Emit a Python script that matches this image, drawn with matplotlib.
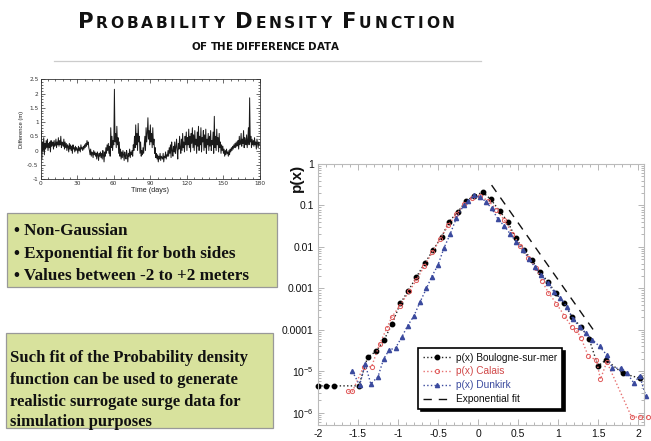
import numpy as np
import matplotlib
matplotlib.use('Agg')
import matplotlib.pyplot as plt
from matplotlib.patches import Rectangle
from matplotlib.lines import Line2D
from matplotlib.ticker import MultipleLocator, LogLocator, NullFormatter

plt.rcParams['mathtext.fontset'] = 'custom'
plt.rcParams['mathtext.rm'] = 'Liberation Sans'
plt.rcParams['mathtext.it'] = 'Liberation Sans:italic'

# ---------------- data ----------------
boulogne_x = [-2.005, -1.90, -1.80, -1.49, -1.38, -1.27, -1.175, -1.075, -0.97, -0.87,
              -0.77, -0.66, -0.56, -0.455, -0.36, -0.25, -0.15, -0.05, 0.06, 0.16,
              0.27, 0.37, 0.47, 0.575, 0.67, 0.775, 0.88, 0.975, 1.075, 1.18,
              1.29, 1.39, 1.50, 1.60, 1.81, 2.02]
boulogne_y = [4.5e-6, 4.5e-6, 4.5e-6, 4.5e-6, 2.2e-5, 3.1e-5, 5.7e-5, 1.4e-4, 4.4e-4, 8.9e-4,
              1.9e-3, 4.2e-3, 8.5e-3, 0.0177, 0.041, 0.071, 0.128, 0.17, 0.21, 0.14,
              0.074, 0.041, 0.0165, 0.0085, 0.0049, 0.0025, 0.0014, 7.6e-4, 4.4e-4, 2.0e-4,
              1.17e-4, 6.0e-5, 1.35e-5, 1.9e-5, 9.0e-6, 6.9e-6]

calais_x = [-1.62, -1.57, -1.43, -1.33, -1.23, -1.14, -1.08, -0.98, -0.86, -0.77,
            -0.67, -0.57, -0.47, -0.37, -0.27, -0.17, -0.07, 0.03, 0.13, 0.23,
            0.33, 0.43, 0.53, 0.63, 0.72, 0.80, 0.88, 0.98, 1.08, 1.17,
            1.23, 1.29, 1.38, 1.48, 1.53, 1.61, 1.92, 2.02, 2.12]
calais_y = [3.3e-6, 3.3e-6, 1.3e-5, 1.3e-5, 4.6e-5, 1.1e-4, 2.0e-4, 3.8e-4, 8.5e-4, 1.6e-3,
            3.5e-3, 7.5e-3, 0.016, 0.034, 0.062, 0.11, 0.15, 0.165, 0.13, 0.08,
            0.044, 0.021, 0.0105, 0.0055, 0.0032, 1.5e-3, 8.0e-4, 4.3e-4, 2.2e-4, 1.2e-4,
            1.0e-4, 6.3e-5, 2.3e-5, 1.9e-5, 6.5e-6, 1.7e-5, 8e-7, 8e-7, 8e-7]

dunkirk_x = [-1.57, -1.48, -1.41, -1.34, -1.25, -1.18, -1.11, -1.03, -0.95, -0.88,
             -0.80, -0.725, -0.645, -0.58, -0.50, -0.425, -0.35, -0.27, -0.18, -0.12,
             -0.05, 0.025, 0.10, 0.17, 0.25, 0.33, 0.40, 0.48, 0.56, 0.64,
             0.71, 0.79, 0.87, 0.95, 1.03, 1.11, 1.19, 1.27, 1.35, 1.43,
             1.52, 1.61, 1.68, 1.79, 1.86, 1.95, 2.02, 2.10]
dunkirk_y = [1.0e-5, 4.7e-6, 1.5e-5, 5.0e-6, 7.5e-6, 2.0e-5, 3.3e-5, 3.7e-5, 6.9e-5, 1.26e-4,
             2.2e-4, 4.7e-4, 1.0e-3, 1.9e-3, 3.7e-3, 9.5e-3, 0.02, 0.05, 0.1, 0.13,
             0.175, 0.16, 0.123, 0.085, 0.047, 0.032, 0.021, 0.013, 0.0085, 0.0052,
             0.0033, 0.0021, 0.00135, 8.3e-4, 6.0e-4, 3.6e-4, 1.8e-4, 1.2e-4, 8.3e-5, 5.8e-5,
             4.0e-5, 2.5e-5, 1.2e-5, 1.2e-5, 9.3e-6, 5.2e-6, 7.9e-6, 2.5e-6]

fit_x = [0.17, 1.48]
fit_y = [0.31, 7.9e-5]

x_ticks = [-2, -1.5, -1, -0.5, 0, 0.5, 1, 1.5, 2]
x_tick_labels = ['-2', '-1.5', '-1', '-0.5', '0', '0.5', '1', '1.5', '2']
y_ticks = [1, 1e-1, 1e-2, 1e-3, 1e-4, 1e-5, 1e-6]
y_tick_labels = ['1', '0.1', '0.01', '0.001', '0.0001', r'$10^{-5}$', r'$10^{-6}$']

legend_labels = ['p(x) Boulogne-sur-mer', 'p(x) Calais', 'p(x) Dunkirk', 'Exponential fit']

# time series of the difference (m), every half day, days 0..180
diff_series = [
    -0.1, 0.7, -0.3, 0.3, 0.0, 0.45, -0.15, 0.25, 0.05, 0.35,
    0.1, 0.4, 0.0, 0.25, 0.1, 0.3, -0.05, 0.35, 0.15, 0.2,
    0.3, 0.05, 0.35, 0.15, 0.2, 0.4, 0.1, 0.3, 0.2, 0.45,
    0.15, 0.35, 0.2, 0.5, 0.1, 0.3, 0.25, 0.15, 0.4, 0.05,
    0.3, 0.1, 0.25, 0.0, 0.2, 0.15, -0.05, 0.25, 0.05, 0.2,
    0.0, 0.15, -0.1, 0.2, 0.05, 0.1, -0.05, 0.15, 0.0, 0.1,
    0.05, -0.1, 0.15, 0.0, 0.1, -0.05, 0.2, 0.05, 0.1, 0.0,
    0.15, 0.05, 0.2, 0.1, 0.25, 0.15, 0.35, 0.2, 0.3, 0.1,
    0.0, -0.15, 0.05, -0.2, -0.05, -0.1, -0.25, 0.0, -0.15, -0.05,
    -0.2, -0.1, -0.3, -0.05, -0.15, -0.35, -0.1, -0.2, -0.05, -0.25,
    -0.1, -0.3, 0.0, -0.15, -0.4, -0.05, -0.2, 0.1, -0.1, 0.2,
    0.0, 0.25, -0.1, 0.15, -0.2, 0.8, 0.1, 0.5, 0.0, 0.35,
    0.2, 2.15, 0.3, 0.6, 0.1, 0.85, 0.2, 0.45, -0.1, 0.3,
    -0.2, 0.05, -0.3, -0.05, -0.25, 0.0, -0.15, -0.35, -0.05, -0.2,
    -0.3, 0.0, -0.15, -0.4, -0.1, -0.2, 0.05, -0.25, -0.05, -0.15,
    0.0, -0.2, 0.2, 0.0, 0.5, 0.1, 0.9, 0.2, 0.6, 0.0,
    0.95, 0.3, 0.5, -0.1, 0.3, -0.2, 0.0, -0.15, 0.1, -0.1,
    0.2, 0.5, 0.0, 0.8, 0.3, 0.6, 1.15, 0.4, 0.7, 0.2,
    0.9, 0.3, 0.6, 0.1, 0.8, 0.2, 0.4, -0.1, 0.1, -0.25,
    -0.1, -0.3, -0.15, -0.4, -0.2, -0.3, -0.1, -0.35, -0.2, -0.25,
    -0.3, -0.1, -0.4, -0.2, -0.25, -0.05, -0.3, -0.15, -0.2, 0.0,
    -0.2, 0.1, -0.1, 0.2, -0.25, 0.3, 0.0, -0.2, 0.15, -0.05,
    0.3, -0.1, 0.1, 0.4, 0.0, -0.3, 0.25, 0.05, 0.5, 0.1,
    -0.1, 0.4, 0.0, 0.6, 0.1, 0.3, -0.05, 0.5, 0.2, 0.65,
    0.0, 0.45, 0.2, 0.75, 0.1, 0.5, -0.05, 0.6, 0.25, 0.8,
    0.1, 0.55, 0.0, 0.7, 0.2, 0.4, -0.1, 0.65, 0.15, 0.85,
    0.0, 0.5, 0.2, 0.8, -0.05, 0.45, 0.3, 0.7, 0.0, 0.55,
    0.1, 0.75, -0.1, 0.4, 0.2, 0.6, 0.0, 0.5, 0.15, 0.7,
    0.0, 0.35, 0.2, 0.65, -0.1, 1.2, 0.1, 0.5, 0.0, 0.75,
    0.2, 0.45, -0.05, 0.6, 0.1, 0.3, -0.1, 0.2, 0.0, 0.15,
    -0.1, 0.05, -0.2, 0.0, -0.15, 0.05, -0.1, -0.05, -0.2, 0.0,
    -0.15, 0.05, -0.05, 0.1, 0.0, 0.15, 0.05, 0.2, 0.1, 0.25,
    0.1, 0.3, 0.15, 0.2, 0.35, 0.05, 0.5, 0.2, 0.3, 0.6,
    0.15, 0.4, 0.25, 0.7, 0.1, 0.45, 0.3, 0.2, 0.55, 0.1,
    0.4, 0.8, 0.2, 1.85, 0.3, 0.5, 0.1, 0.4, 0.2, 0.35,
    0.15, 0.45, 0.2, 0.3, 0.05, 0.4, 0.25, 0.1, 0.3, 0.2,
]
ts_xticks = [0, 30, 60, 90, 120, 150, 180]
ts_yticks = [-1, -0.5, 0, 0.5, 1, 1.5, 2, 2.5]
ts_ytick_labels = ['-1', '-0.5', '0', '0.5', '1', '1.5', '2', '2.5']

title_text = 'Probability Density Function'
subtitle_text = 'of the difference data'
box1_lines = ['\u2022 Non-Gaussian', '\u2022 Exponential fit for both sides',
              '\u2022 Values between -2 to +2 meters']
box2_lines = ['Such fit of the Probability density', 'function can be used to generate',
              'realistic surrogate surge data for', 'simulation purposes']

# ---------------- figure ----------------
W, H = 651, 441
fig = plt.figure(figsize=(W / 100, H / 100), dpi=100)
fig.patch.set_facecolor('white')


def rect(l, t, r, b):
    return [l / W, 1 - b / H, (r - l) / W, (b - t) / H]


def fx(px):
    return px / W


def fy(py):
    return 1 - py / H


renderer = fig.canvas.get_renderer()


def smallcaps(text, cx, base_y, big, small, target_w, **kw):
    pieces = []
    for ch in text:
        if ch == ' ':
            pieces.append(None)
            continue
        size = big if ch.isupper() else small
        t = fig.text(0, 0, ch.upper(), fontsize=size, ha='left', va='baseline', **kw)
        pieces.append(t)
    widths = []
    for p in pieces:
        if p is None:
            widths.append(small * 100 / 72 * 0.35)
        else:
            widths.append(p.get_window_extent(renderer).width)
    n = len(pieces)
    extra = (target_w - sum(widths)) / (n - 1)
    x = cx - target_w / 2
    for p, w in zip(pieces, widths):
        if p is not None:
            p.set_position((fx(x), fy(base_y)))
        x += w + extra


# Title
smallcaps(title_text, 266, 28.5, 15.2, 11.2, 377, family='DejaVu Sans', weight='bold', color='#111111')
smallcaps(subtitle_text, 265.5, 50, 7.4, 7.4, 147, family='DejaVu Sans', weight='bold', color='#111111')
fig.add_artist(Line2D([fx(54), fx(481)], [fy(61), fy(61)], transform=fig.transFigure,
                      color='#cccccc', lw=0.9))

# Green boxes
box_face = '#d8e29d'
fig.add_artist(Rectangle((fx(7), fy(287)), (277 - 7) / W, (287 - 213) / H, transform=fig.transFigure,
                         facecolor=box_face, edgecolor='#999999', lw=0.9))
fig.add_artist(Rectangle((fx(6), fy(428)), (273 - 6) / W, (428 - 333) / H, transform=fig.transFigure,
                         facecolor=box_face, edgecolor='#999999', lw=0.9))


def text_block(lines, x0, baselines, target_w, widest):
    objs = [fig.text(fx(x0), fy(b), s, fontsize=12, family='Liberation Serif', weight='bold',
                     ha='left', va='baseline', color='#111111') for s, b in zip(lines, baselines)]
    w = objs[widest].get_window_extent(renderer).width
    size = 12 * target_w / w
    for o in objs:
        o.set_fontsize(size)


text_block(box1_lines, 14, [235, 258, 280], 234, 2)
text_block(box2_lines, 10, [362, 384, 406, 426], 238, 0)

# ---------------- time series inset ----------------
ax2 = fig.add_axes(rect(40.7, 79.3, 260, 179))
days = np.arange(len(diff_series)) * 0.5
ax2.plot(days, diff_series, color='#1a1a1a', lw=0.7)
ax2.set_xlim(0, 180)
ax2.set_ylim(-1, 2.5)
ax2.set_xticks(ts_xticks)
ax2.set_xticklabels([str(v) for v in ts_xticks])
ax2.set_yticks(ts_yticks)
ax2.set_yticklabels(ts_ytick_labels)
ax2.xaxis.set_minor_locator(MultipleLocator(6))
ax2.yaxis.set_minor_locator(MultipleLocator(0.1))
ax2.tick_params(which='both', direction='in', top=True, right=True, labelsize=4.2,
                colors='#333333', width=0.5, pad=1.5)
ax2.tick_params(which='major', length=3)
ax2.tick_params(which='minor', length=1.5)
for s in ax2.spines.values():
    s.set_linewidth(0.6)
    s.set_color('#333333')
ax2.set_xlabel('Time (days)', fontsize=5.2, family='Liberation Sans', labelpad=1, color='#222222')
ax2.set_ylabel('Difference (m)', fontsize=4.2, family='Liberation Sans', labelpad=2, color='#222222')

# ---------------- main PDF chart ----------------
ax = fig.add_axes(rect(318, 164, 644, 425))
ax.set_yscale('log')
red = '#e05a5a'
blue = '#3b4a9e'
ax.plot(boulogne_x, boulogne_y, ls=':', color='#222222', lw=1.0, marker='o', ms=3.2,
        mfc='black', mec='black', label=legend_labels[0], clip_on=False)
ax.plot(calais_x, calais_y, ls=':', color='#e77070', lw=1.0, marker='o', ms=3.0,
        mfc='none', mec=red, mew=0.7, label=legend_labels[1], clip_on=False)
ax.plot(dunkirk_x, dunkirk_y, ls=':', color=blue, lw=1.0, marker='^', ms=3.0,
        mfc=blue, mec=blue, label=legend_labels[2], clip_on=False)
ax.plot(fit_x, fit_y, ls=(0, (6, 5)), color='#111111', lw=1.0, label=legend_labels[3])

ax.set_xlim(-2, 2.075)
ax.set_ylim(10 ** -6.29, 1)
ax.set_xticks(x_ticks)
ax.set_xticklabels(x_tick_labels)
ax.set_yticks(y_ticks)
ax.set_yticklabels(y_tick_labels)
ax.yaxis.set_minor_locator(LogLocator(base=10, subs=np.arange(2, 10) * 1.0, numticks=20))
ax.yaxis.set_minor_formatter(NullFormatter())
ax.xaxis.set_minor_locator(MultipleLocator(0.1))
ax.tick_params(which='both', direction='in', top=True, right=True, colors='#aaaaaa',
               labelcolor='#111111', labelsize=7.5, width=0.6, pad=3)
for lab in ax.get_xticklabels() + ax.get_yticklabels():
    lab.set_family('Liberation Sans')
ax.tick_params(which='major', length=4)
ax.tick_params(which='minor', length=2)
for s in ax.spines.values():
    s.set_color('#bbbbbb')
    s.set_linewidth(0.8)

fig.text(fx(297), fy(178), 'p(x)', rotation=90, fontsize=11, weight='bold',
         family='Liberation Sans', ha='center', va='center', color='#111111')

leg = ax.legend(loc='upper left', bbox_to_anchor=(0.307, 0.295), borderaxespad=0,
                frameon=True, fancybox=False, shadow={'color': 'black', 'alpha': 1.0},
                edgecolor='black', framealpha=1.0, prop={'family': 'Liberation Sans', 'size': 7.3},
                handlelength=2.8, handletextpad=0.5, labelspacing=0.38, borderpad=0.45)
leg.get_frame().set_linewidth(1.2)
leg.set_zorder(10)
for txt, c in zip(leg.get_texts(), ['#111111', '#d04848', blue, '#111111']):
    txt.set_color(c)

fig.savefig('out.png', dpi=100)
